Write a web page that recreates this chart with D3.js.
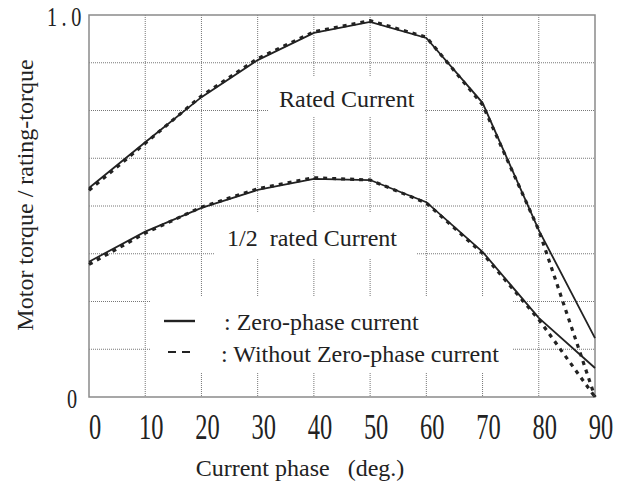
<!DOCTYPE html>
<html>
<head>
<meta charset="utf-8">
<script src="https://cdn.jsdelivr.net/npm/d3@7"></script>
<style>
  body { margin: 0; background: #fff; }
  text { font-family: "Liberation Serif", "DejaVu Serif", serif; fill: #222; }
</style>
</head>
<body>
<svg id="chart" width="621" height="481"></svg>
<script>
// values (torque / rated torque)
const phase = [0, 10, 20, 30, 40, 50, 60, 70, 80, 90]
const ratedZero = [0.547, 0.667, 0.785, 0.882, 0.953, 0.982, 0.940, 0.770, 0.437, 0.154]
const ratedWithout = [0.541, 0.664, 0.788, 0.886, 0.956, 0.985, 0.942, 0.765, 0.437, 0.0]
const halfZero = [0.354, 0.433, 0.495, 0.542, 0.571, 0.568, 0.510, 0.380, 0.207, 0.076]
const halfWithout = [0.347, 0.429, 0.497, 0.545, 0.574, 0.568, 0.508, 0.376, 0.203, 0.0]
const xTicks = [0, 10, 20, 30, 40, 50, 60, 70, 80, 90]
const yGrid = [0.125, 0.25, 0.375, 0.5, 0.625, 0.75, 0.875]
const yLabels = [{v: 1.0, t: '1.0'}, {v: 0, t: '0'}]

const svg = d3.select('#chart')
const plotLeft = 89, plotRight = 595, plotTop = 15, plotBottom = 397

const x = d3.scaleLinear().domain([0, 90]).range([plotLeft, plotRight])
const y = d3.scaleLinear().domain([0, 1]).range([plotBottom, plotTop])

const gridColor = '#777'
const ink = '#222'

// dotted grid
svg.append('g').selectAll('line')
  .data(xTicks.slice(1, -1))
  .enter().append('line')
  .attr('x1', d => x(d)).attr('x2', d => x(d))
  .attr('y1', plotTop).attr('y2', plotBottom)
  .attr('stroke', gridColor).attr('stroke-width', 1)
  .attr('stroke-dasharray', '1,1')

svg.append('g').selectAll('line')
  .data(yGrid)
  .enter().append('line')
  .attr('x1', plotLeft).attr('x2', plotRight)
  .attr('y1', d => y(d)).attr('y2', d => y(d))
  .attr('stroke', gridColor).attr('stroke-width', 1)
  .attr('stroke-dasharray', '1,1')

// white patches behind the labels (grid is broken there)
const patches = [
  {x0: 268, y0: 77, x1: 425, y1: 117},
  {x0: 215, y0: 213, x1: 417, y1: 258},
  {x0: 150, y0: 297, x1: 512, y1: 372}
]
svg.append('g').selectAll('rect')
  .data(patches)
  .enter().append('rect')
  .attr('x', d => d.x0).attr('y', d => d.y0)
  .attr('width', d => d.x1 - d.x0).attr('height', d => d.y1 - d.y0)
  .attr('fill', '#fff')

// frame
svg.append('rect')
  .attr('x', plotLeft).attr('y', plotTop)
  .attr('width', plotRight - plotLeft).attr('height', plotBottom - plotTop)
  .attr('fill', 'none').attr('stroke', '#8a8a8a').attr('stroke-width', 1.5)

// curves
const line = d3.line()
  .x((d, i) => x(phase[i]))
  .y(d => y(d))

const series = [
  {vals: ratedZero, dash: null},
  {vals: halfZero, dash: null},
  {vals: ratedWithout, dash: '4,5'},
  {vals: halfWithout, dash: '4,5'}
]
svg.append('g').selectAll('path')
  .data(series)
  .enter().append('path')
  .attr('d', d => line(d.vals))
  .attr('fill', 'none')
  .attr('stroke', ink)
  .attr('stroke-width', d => d.dash ? 3.2 : 1.8)
  .attr('stroke-dasharray', d => d.dash)

// x tick labels (tall, narrow digits)
svg.append('g').selectAll('text')
  .data(xTicks)
  .enter().append('text')
  .attr('transform', d => `translate(${x(d) + 6},439) scale(0.68,1)`)
  .attr('text-anchor', 'middle')
  .attr('font-size', 36)
  .text(d => d)

// y tick labels
svg.append('g').selectAll('text')
  .data(yLabels)
  .enter().append('text')
  .attr('transform', d => d.v === 1 ? `translate(47,${y(d.v) + 11}) scale(0.75,1)` : `translate(67,${y(d.v) + 11}) scale(0.75,1)`)
  .attr('font-size', 27)
  .attr('letter-spacing', d => d.v === 1 ? 6 : 0)
  .text(d => d.t)

// axis titles
svg.append('text')
  .attr('x', 300).attr('y', 476)
  .attr('text-anchor', 'middle')
  .attr('font-size', 24)
  .style('white-space', 'pre')
  .text('Current phase   (deg.)')

svg.append('text')
  .attr('transform', 'translate(33,195) rotate(-90)')
  .attr('text-anchor', 'middle')
  .attr('font-size', 24)
  .text('Motor torque / rating-torque')

// curve labels
svg.append('text')
  .attr('x', 279).attr('y', 107)
  .attr('font-size', 24)
  .text('Rated Current')

svg.append('text')
  .attr('x', 227).attr('y', 246)
  .attr('font-size', 24)
  .style('white-space', 'pre')
  .text('1/2  rated Current')

// legend
const legend = [
  {y: 321, x0: 164, x1: 195, dash: null, w: 2.4, tx: 224, ty: 330, label: ': Zero-phase current'},
  {y: 352, x0: 168, x1: 190, dash: '8,6', w: 2.2, tx: 221, ty: 362, label: ': Without Zero-phase current'}
]
const lg = svg.append('g')
lg.selectAll('line')
  .data(legend)
  .enter().append('line')
  .attr('x1', d => d.x0).attr('x2', d => d.x1)
  .attr('y1', d => d.y).attr('y2', d => d.y)
  .attr('stroke', ink)
  .attr('stroke-width', d => d.w)
  .attr('stroke-dasharray', d => d.dash)
lg.selectAll('text')
  .data(legend)
  .enter().append('text')
  .attr('x', d => d.tx).attr('y', d => d.ty)
  .attr('font-size', 24)
  .text(d => d.label)
</script>
</body>
</html>
